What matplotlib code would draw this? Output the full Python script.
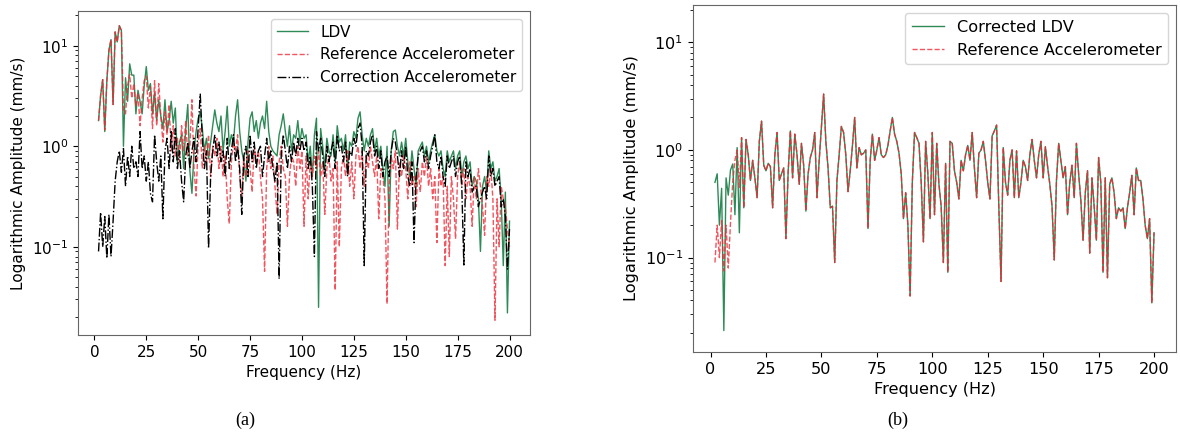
import matplotlib
matplotlib.use("Agg")
import matplotlib.pyplot as plt
import numpy as np

# frequency grid (Hz), one value per Hz from 2 to 200
freq = np.arange(2, 201)

# (a) LDV, reference accelerometer, correction accelerometer (mm/s)
ldv_a = [1.8, 3.2, 4.6, 1.4, 4.5, 9.0, 11.5, 2.6,
         13.7, 10.9, 15.8, 14.2, 1.0, 4.8, 2.8, 6.6, 5.1, 5.1,
         2.1, 3.6, 2.8, 2.1, 4.0, 6.2, 3.6, 4.2, 2.1, 3.4,
         1.8, 2.9, 2.0, 1.5, 2.9, 1.4, 1.8, 2.8, 1.7, 2.4,
         0.7, 1.1, 1.3, 0.6, 1.5, 2.6, 0.57, 0.34, 0.9, 1.4,
         1.9, 2.2, 1.5, 0.9, 1.2, 0.75, 1.1, 1.6, 2.3, 1.7,
         1.4, 2.0, 0.9, 1.4, 2.5, 1.0, 1.3, 1.1, 2.0, 2.9,
         1.4, 0.9, 0.7, 0.45, 1.1, 1.9, 2.2, 1.4, 1.8, 1.2,
         1.7, 2.0, 1.5, 2.8, 1.4, 1.0, 0.9, 0.85, 0.8, 1.3,
         1.6, 2.1, 1.4, 1.0, 1.6, 0.9, 1.3, 1.2, 1.8, 1.1,
         1.5, 1.2, 1.3, 0.7, 1.0, 0.5, 1.3, 1.9, 0.025, 1.5,
         1.0, 0.6, 1.2, 0.9, 0.8, 1.3, 0.7, 1.6, 1.1, 1.2,
         0.9, 1.3, 0.6, 1.1, 1.0, 1.4, 1.2, 1.9, 2.2, 1.3,
         0.9, 1.2, 1.0, 1.3, 1.5, 0.9, 1.2, 0.8, 1.0, 0.6,
         0.4, 1.0, 0.16, 0.9, 1.4, 1.45, 1.0, 0.8, 1.1, 0.8,
         1.2, 0.7, 0.5, 0.9, 0.6, 0.4, 0.9, 1.0, 1.1, 0.8,
         1.0, 0.7, 0.9, 1.1, 1.3, 0.9, 0.8, 0.9, 0.6, 0.5,
         0.9, 0.7, 0.8, 0.9, 0.6, 0.8, 0.9, 0.5, 0.7, 0.8,
         0.6, 0.7, 0.4, 0.5, 0.45, 0.3, 0.09, 0.4, 0.5, 0.35,
         0.9, 0.6, 0.7, 0.45, 0.5, 0.6, 0.3, 0.065, 0.35, 0.022,
         0.18]

ref_a = [1.8, 3.2, 4.6, 1.45, 4.5, 9.0, 11.5, 2.6,
         13.7, 10.9, 15.8, 14.2, 2.3, 2.1, 4.0, 5.2, 3.0, 4.2,
         2.5, 3.4, 1.6, 3.0, 4.5, 5.0, 2.4, 3.9, 1.5, 4.5,
         1.6, 4.2, 2.0, 1.1, 2.2, 1.3, 2.6, 0.9, 1.6, 0.8,
         1.2, 0.7, 1.6, 0.9, 1.8, 0.8, 1.0, 2.9, 0.6, 0.32,
         1.1, 1.5, 0.6, 1.0, 0.7, 1.3, 0.5, 1.0, 0.8, 1.2,
         0.6, 1.0, 0.5, 0.8, 0.3, 0.17, 0.7, 1.1, 0.9, 1.3,
         0.5, 0.32, 0.8, 0.5, 0.9, 0.6, 0.35, 1.0, 0.7, 0.9,
         0.5, 0.3, 0.057, 0.6, 1.0, 0.6, 0.8, 0.4, 0.21, 0.7,
         1.0, 0.6, 0.5, 0.16, 0.5, 0.8, 0.7, 0.4, 1.0, 0.6,
         0.9, 0.16, 0.8, 0.3, 0.7, 0.5, 0.8, 0.6, 0.9, 0.5,
         0.7, 0.21, 0.6, 0.8, 0.45, 0.6, 0.037, 0.7, 0.1, 0.6,
         0.8, 0.5, 0.9, 0.4, 0.7, 0.3, 0.8, 1.0, 0.6, 0.9,
         0.4, 0.8, 0.6, 1.0, 0.7, 0.5, 0.8, 0.19, 0.6, 0.5,
         0.3, 0.027, 0.4, 0.8, 0.6, 0.9, 0.15, 0.7, 0.5, 0.8,
         0.6, 0.3, 0.7, 0.4, 0.5, 0.25, 0.6, 0.35, 0.7, 0.5,
         0.8, 0.4, 0.6, 0.3, 0.5, 0.11, 0.6, 0.4, 0.5, 0.065,
         0.4, 0.08, 0.5, 0.3, 0.12, 0.5, 0.7, 0.4, 0.6, 0.3,
         0.5, 0.4, 0.16, 0.5, 0.3, 0.6, 0.4, 0.25, 0.13, 0.5,
         0.4, 0.6, 0.3, 0.0186, 0.3, 0.1, 0.4, 0.3, 0.25, 0.15,
         0.1]

corr_a = [0.09, 0.22, 0.1, 0.2, 0.077, 0.21, 0.08, 0.18,
          0.45, 0.7, 0.9, 0.55, 0.95, 0.4, 0.8, 0.5, 1.0, 0.6,
          0.7, 0.5, 1.4, 0.6, 0.8, 0.45, 0.7, 0.34, 0.28, 1.3,
          0.7, 0.45, 0.8, 0.19, 0.9, 1.2, 0.6, 1.4, 0.7, 1.5,
          0.6, 0.9, 0.45, 0.28, 0.8, 1.1, 0.6, 0.9, 1.2, 0.7,
          1.5, 3.3, 1.2, 0.6, 0.9, 0.097, 0.5, 0.9, 1.3, 0.8,
          1.1, 0.7, 0.9, 0.5, 1.2, 0.6, 0.9, 1.3, 0.7, 1.0,
          0.6, 0.21, 0.8, 1.0, 0.5, 1.3, 0.7, 1.1, 0.6, 0.9,
          1.0, 0.5, 0.8, 1.2, 0.7, 0.9, 0.6, 0.45, 0.7, 0.048,
          0.8, 1.3, 0.9, 0.6, 1.0, 0.7, 1.1, 0.8, 1.2, 0.9,
          1.2, 0.9, 1.1, 0.6, 0.8, 0.4, 0.08, 1.4, 0.9, 1.2,
          0.8, 0.5, 1.0, 0.7, 0.9, 1.1, 0.6, 1.3, 0.9, 1.0,
          0.7, 1.1, 0.5, 0.9, 0.8, 1.2, 1.0, 1.5, 1.7, 1.0,
          0.065, 0.9, 0.8, 1.1, 1.3, 0.8, 1.0, 0.6, 0.9, 0.5,
          0.7, 0.8, 0.5, 0.9, 1.2, 1.1, 0.8, 0.5, 0.9, 0.6,
          1.0, 0.5, 0.4, 0.7, 0.11, 0.5, 0.8, 0.9, 1.0, 0.7,
          0.9, 0.6, 0.8, 1.0, 1.3, 0.7, 0.6, 0.8, 0.5, 0.4,
          0.8, 0.6, 0.7, 0.8, 0.5, 0.7, 0.8, 0.4, 0.066, 0.7,
          0.5, 0.6, 0.35, 0.4, 0.4, 0.25, 0.3, 0.35, 0.4, 0.3,
          0.8, 0.5, 0.6, 0.4, 0.45, 0.5, 0.25, 0.3, 0.2, 0.06,
          0.15]

# (b) below 14 Hz the two curves differ, above they coincide
ldv_b_low = [0.5, 0.6, 0.2, 0.44, 0.021, 0.55, 0.38, 0.65,
             0.74, 0.25, 1.05, 0.17]
ref_b_low = [0.09, 0.2, 0.1, 0.22, 0.075, 0.2, 0.08, 0.21,
             0.5, 0.8, 1.0, 0.45]
b_tail = [1.3, 0.29, 1.25, 0.9, 0.52, 0.8,
          0.55, 0.36, 1.2, 1.85, 0.72, 0.64, 0.75, 0.7, 0.29, 0.9,
          1.45, 0.52, 0.6, 0.68, 0.15, 0.62, 1.5, 0.55, 1.4, 0.9,
          0.48, 1.15, 0.72, 0.27, 0.6, 0.85, 1.0, 1.45, 0.36, 0.8,
          1.6, 3.3, 1.2, 0.68, 0.29, 0.3, 0.09, 0.52, 0.9, 1.65,
          1.45, 0.9, 0.41, 0.64, 1.1, 2.0, 0.68, 1.05, 0.9, 0.93,
          1.0, 0.186, 0.8, 1.4, 0.8, 1.0, 1.3, 0.9, 0.85, 0.9,
          1.1, 1.5, 2.0, 1.4, 1.2, 0.93, 0.6, 0.23, 0.4, 0.2,
          0.044, 0.5, 1.45, 1.3, 1.15, 0.5, 0.14, 1.2, 0.6, 0.23,
          1.45, 0.25, 1.15, 0.48, 0.3, 0.09, 0.75, 0.073, 1.2, 1.15,
          0.64, 0.5, 0.35, 0.8, 0.64, 0.9, 1.1, 0.8, 1.45, 0.68,
          0.36, 0.93, 1.0, 1.2, 0.8, 0.5, 0.35, 1.35, 1.5, 1.7,
          0.3, 0.06, 1.05, 0.5, 0.38, 0.8, 1.0, 0.36, 0.98, 0.36,
          0.5, 0.8, 0.7, 0.52, 0.9, 1.25, 0.8, 0.55, 0.9, 1.2,
          0.55, 1.07, 0.7, 0.48, 0.3, 0.095, 0.52, 1.15, 0.8, 0.55,
          0.7, 0.25, 0.5, 0.72, 0.36, 1.15, 0.6, 0.34, 0.145, 0.4,
          0.64, 0.11, 0.55, 0.3, 0.145, 0.85, 0.5, 0.073, 0.55, 0.065,
          0.48, 0.55, 0.4, 0.23, 0.29, 0.27, 0.29, 0.186, 0.29, 0.4,
          0.58, 0.25, 0.68, 0.52, 0.52, 0.35, 0.2, 0.15, 0.23, 0.038,
          0.17]
ldv_b = ldv_b_low + b_tail
ref_b = ref_b_low + b_tail

green = "#2e8b57"
red = "#ee2a35"

fig = plt.figure(figsize=(11.8, 4.38), dpi=100)
ax_a = fig.add_axes([0.0661, 0.2352, 0.3831, 0.7397])
ax_b = fig.add_axes([0.5873, 0.1963, 0.4093, 0.7922])

ax_a.plot(freq, ldv_a, color=green, lw=1.0, label="LDV")
ax_a.plot(freq, ref_a, color=red, lw=1.0, ls="--", alpha=0.8, label="Reference Accelerometer")
ax_a.plot(freq, corr_a, color="k", lw=1.0, ls="-.", label="Correction Accelerometer")
ax_a.set_yscale("log")
ax_a.set_xticks([0, 25, 50, 75, 100, 125, 150, 175, 200])
ax_a.tick_params(labelsize=11)
ax_a.set_xlabel("Frequency (Hz)", fontsize=11)
ax_a.set_ylabel("Logarithmic Amplitude (mm/s)", fontsize=11)
ax_a.legend(loc="upper right", fontsize=11)

ax_b.plot(freq, ldv_b, color=green, lw=1.0, label="Corrected LDV")
ax_b.plot(freq, ref_b, color=red, lw=1.0, ls="--", alpha=0.8, label="Reference Accelerometer")
ax_b.set_yscale("log")
ax_b.set_ylim(ax_a.get_ylim())
ax_b.set_xticks([0, 25, 50, 75, 100, 125, 150, 175, 200])
ax_b.tick_params(labelsize=11.6)
ax_b.set_xlabel("Frequency (Hz)", fontsize=11.6)
ax_b.set_ylabel("Logarithmic Amplitude (mm/s)", fontsize=11.6)
ax_b.legend(loc="upper right", fontsize=11.6)

for ax in (ax_a, ax_b):
    for s in ax.spines.values():
        s.set_edgecolor("0.4")

fig.text(0.2076, 0.03, "(a)", family="Liberation Serif", fontsize=13, ha="center")
fig.text(0.761, 0.03, "(b)", family="Liberation Serif", fontsize=13, ha="center")

fig.savefig("out.png", dpi=100)
